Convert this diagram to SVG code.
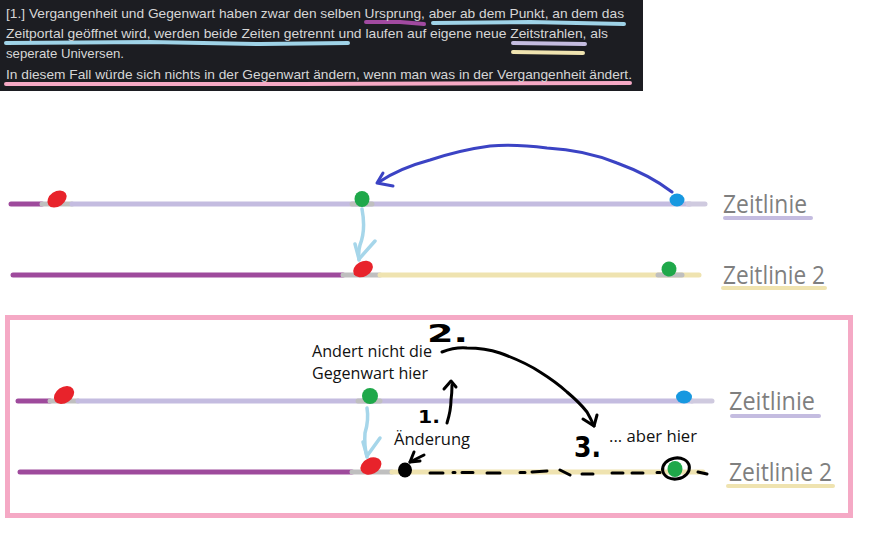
<svg xmlns="http://www.w3.org/2000/svg" width="871" height="543" viewBox="0 0 871 543">
<style>
.cap{font-family:"Liberation Sans",Arial,sans-serif;font-size:13px;fill:#d6d6d6}
.mk{fill:none;stroke-width:4;stroke-linecap:round;stroke-linejoin:round}
.tl{fill:none;stroke-width:5;stroke-linecap:round}
.pu{stroke:#9e4a9c}.la{stroke:#c4bce0}.ye{stroke:#efe3b0}.gr{stroke:#bfbfbf}
.lbl{font-family:"Open Sans","Liberation Sans",sans-serif;font-size:25px;fill:#7f7f7f}
.note{font-family:"Open Sans","Liberation Sans",sans-serif;font-size:16px;fill:#111}
.hand{font-family:"DejaVu Sans",sans-serif;font-weight:bold;fill:#000}
.ink{fill:none;stroke:#000;stroke-width:3;stroke-linecap:round;stroke-linejoin:round}
.lb{fill:none;stroke:#a6d6ea;stroke-width:3.5;stroke-linecap:round;stroke-linejoin:round}
.red{fill:#e8232b}.grn{fill:#1fa84a}.blu{fill:#1798e0}
</style>
<g id="caption">
<rect x="0" y="0" width="643" height="91" fill="#1c1d22"/>
<path class="mk" d="M366,22 L400,22 Q412,23 424,24" stroke="#a14aa0"/>
<path class="mk" d="M433,23 L530,22 L624,24" stroke="#9fd3e8"/>
<path class="mk" d="M6,43 L150,42 L260,44 L348,43" stroke="#9fd3e8"/>
<path class="mk" d="M513,43 L585,44" stroke="#c4bce0"/>
<path class="mk" d="M513,52 L583,53" stroke="#efe3b0"/>
<path class="mk" d="M6,84 L300,84 L630,83" stroke="#f5a9c5"/>
<text class="cap" x="6" y="18" textLength="618" lengthAdjust="spacingAndGlyphs">[1.] Vergangenheit und Gegenwart haben zwar den selben Ursprung, aber ab dem Punkt, an dem das</text>
<text class="cap" x="6" y="38" textLength="602" lengthAdjust="spacingAndGlyphs">Zeitportal geöffnet wird, werden beide Zeiten getrennt und laufen auf eigene neue Zeitstrahlen, als</text>
<text class="cap" x="6" y="58" textLength="118" lengthAdjust="spacingAndGlyphs">seperate Universen.</text>
<text class="cap" x="6" y="79" textLength="626" lengthAdjust="spacingAndGlyphs">In diesem Fall würde sich nichts in der Gegenwart ändern, wenn man was in der Vergangenheit ändert.</text>
</g>
<g id="timeline1">
<path class="tl pu" d="M11,204 L42,204"/>
<path class="tl gr" d="M42,204 L72,204"/>
<path class="tl la" d="M72,204 L690,204"/>
<path class="tl gr" d="M352,204 L372,204"/>
<path class="tl" stroke="#cfcadf" d="M688,204 L705,204"/>
<ellipse class="red" cx="57" cy="199" rx="10.5" ry="7.5" transform="rotate(-35 57 199)"/>
<ellipse class="grn" cx="362" cy="199" rx="7.5" ry="8"/>
<ellipse class="blu" cx="677" cy="200" rx="7.5" ry="6.5"/>
<text class="lbl" x="723" y="213" textLength="84" lengthAdjust="spacingAndGlyphs">Zeitlinie</text>
<path class="mk la" d="M725,218 L811,218"/>
</g>
<g id="timeline2">
<path class="tl pu" d="M13,275 L343,275"/>
<path class="tl gr" d="M343,275 L380,275"/>
<path class="tl ye" d="M380,275 L699,275"/>
<path class="tl gr" d="M658,275 L682,275"/>
<ellipse class="red" cx="363" cy="269" rx="10.5" ry="7.5" transform="rotate(-30 363 269)"/>
<ellipse class="grn" cx="669" cy="269" rx="7.5" ry="7.5" transform="rotate(-30 669 269)"/>
<text class="lbl" x="723" y="284" textLength="102" lengthAdjust="spacingAndGlyphs">Zeitlinie 2</text>
<path class="mk ye" d="M723,288 L825,288"/>
</g>
<g id="example-box">
<rect x="7.5" y="317.5" width="843" height="198" fill="none" stroke="#f5a9c5" stroke-width="5"/>
</g>
<g id="timeline3">
<path class="tl pu" d="M18,401 L50,401"/>
<path class="tl gr" d="M50,401 L78,401"/>
<path class="tl la" d="M78,401 L692,401"/>
<path class="tl gr" d="M358,401 L380,401"/>
<path class="tl" stroke="#cfcadf" d="M692,401 L712,401"/>
<ellipse class="red" cx="64" cy="395" rx="11" ry="8" transform="rotate(-35 64 395)"/>
<ellipse class="grn" cx="370" cy="396" rx="8" ry="8"/>
<ellipse class="blu" cx="684" cy="397" rx="8" ry="6.5"/>
<text class="lbl" x="729" y="410" textLength="86" lengthAdjust="spacingAndGlyphs">Zeitlinie</text>
<path class="mk la" d="M732,416 L819,416"/>
</g>
<g id="timeline4">
<path class="tl pu" d="M20,472 L352,472"/>
<path class="tl gr" d="M352,472 L392,472"/>
<path class="tl ye" d="M392,472 L703,472"/>
<ellipse class="red" cx="371" cy="466" rx="11" ry="8" transform="rotate(-25 371 466)"/>
<ellipse class="grn" cx="675" cy="469" rx="7.5" ry="8"/>
<ellipse cx="405" cy="470" rx="7" ry="7.5" fill="#000"/>
<text class="lbl" x="729" y="481" textLength="103" lengthAdjust="spacingAndGlyphs">Zeitlinie 2</text>
<path class="mk ye" d="M728,486 L833,486"/>
</g>
<g id="notes">
<text class="note" x="312" y="357" textLength="120" lengthAdjust="spacingAndGlyphs">Andert nicht die</text>
<text class="note" x="312" y="379" textLength="116" lengthAdjust="spacingAndGlyphs">Gegenwart hier</text>
<text class="note" x="394" y="445" textLength="76" lengthAdjust="spacingAndGlyphs">Änderung</text>
<text class="note" x="609" y="442" font-size="15" textLength="88" lengthAdjust="spacingAndGlyphs">... aber hier</text>
<text class="hand" x="427" y="342" font-size="24" textLength="41" lengthAdjust="spacingAndGlyphs">2.</text>
<text class="hand" x="418" y="423" font-size="18" textLength="22" lengthAdjust="spacingAndGlyphs">1.</text>
<text class="hand" x="574" y="457" font-size="29" textLength="27" lengthAdjust="spacingAndGlyphs">3.</text>
</g>
<g id="connectors">
<path d="M672,192 Q650,175 617,163 Q585,150 547,148 Q515,144 490,146 Q460,150 430,160 Q400,168 379,182" fill="none" stroke="#3b43c4" stroke-width="3" stroke-linecap="round"/>
<path d="M393,186 L377,183 L383,173" fill="none" stroke="#3b43c4" stroke-width="3" stroke-linecap="round" stroke-linejoin="round"/>
<path class="lb" d="M362,209 Q366,230 360,245 Q358,252 359,260"/>
<path class="lb" d="M355,244 L359,259 L375,241"/>
<path class="lb" d="M367,408 Q369,420 365,433 Q364,446 367,457"/>
<path class="lb" d="M363,442 L367,456 L380,438"/>
<path class="ink" d="M442,352 Q455,347 467,348 Q485,348 500,353 Q525,362 540,372 Q556,382 567,392 Q580,403 587,412 Q591,419 594,426"/>
<path class="ink" d="M583,419 L594,426 L597,415"/>
<path class="ink" d="M447,423 Q451,410 451,400 Q452,393 452,385"/>
<path class="ink" d="M444,389 L451,381 L456,387"/>
<path class="ink" d="M424,455 L410,462"/>
<path class="ink" d="M414,452 L410,462 L420,461"/>
<path class="ink" d="M430,473 L443,473 M453,472.5 L455,472.5 M462,472.5 L473,472.5 M487,473 L500,473 M520,472.5 L525,472.5 M532,472 L547,471 M560,470 L570,475 M582,474 L593,474 M612,473 L623,473 M632,473 L643,473 M657,472.5 L660,472.5 M698,472 L707,474"/>
<ellipse cx="676" cy="468.5" rx="13.5" ry="10.5" fill="none" stroke="#000" stroke-width="3" transform="rotate(-10 676 468.5)"/>
</g>
</svg>
